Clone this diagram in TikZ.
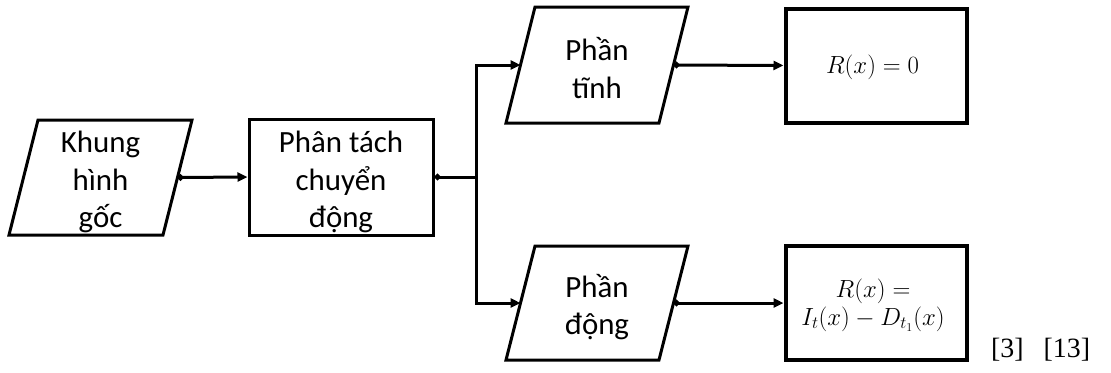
\documentclass[tikz,border=0pt]{standalone}
\usepackage{fontspec}
\setmainfont{Carlito}
\newfontfamily\citefont{Liberation Serif}
\usetikzlibrary{arrows.meta}

\tikzset{
  outline/.style={line width=3bp, line join=miter},
  procbox/.style={draw, rectangle, line width=3bp, minimum width=184bp, minimum height=116bp, inner sep=0pt},
  resbox/.style={draw, rectangle, line width=4bp, minimum width=181bp, minimum height=114bp, inner sep=0pt},
  label text/.style={font=\fontsize{31}{37.5}\selectfont, align=center, inner sep=0pt},
  formula/.style={font=\fontsize{23}{28}\selectfont, align=center, inner sep=0pt},
  wire/.style={line width=3bp},
  conn/.style={line width=3bp, -{Triangle[length=10bp,width=9bp]}},
  dotconn/.style={line width=3bp, {Circle[length=6bp]}-{Triangle[length=10bp,width=9bp]}},
}

\begin{document}
\begin{tikzpicture}[x=1bp, y=-1bp]
\useasboundingbox (0,0) rectangle (1111,372);

% input frame (parallelogram)
\draw[outline] (38,120) -- (192,120) -- (163,235) -- (9,235) -- cycle;
\coordinate (khung-r) at (177.5,177.5);
\node[label text] (khung) at (100.5,182) {Khung\\hình\\gốc};

% motion separation
\node[procbox] (sep) at (341,177) {};
\node[label text] (septxt) at (341,182) {Phân tách\\chuyển\\động};

% static part
\draw[outline] (535,7) -- (688,7) -- (659,123) -- (506,123) -- cycle;
\coordinate (tinh-l) at (520.5,65);
\coordinate (tinh-r) at (673.5,65);
\node[label text] (tinh) at (597,68) {Phần\\tĩnh};

% moving part
\draw[outline] (535,246) -- (688,246) -- (659,360) -- (506,360) -- cycle;
\coordinate (dong-l) at (520.5,303);
\coordinate (dong-r) at (673.5,303);
\node[label text] (dong) at (597,307) {Phần\\động};

% results
\node[resbox] (r0) at (876,65.5) {};
\node[formula] (r0txt) at (872.5,67) {$R(x)=0$};
\node[resbox] (r1) at (876,303) {};
\node[formula, font=\fontsize{24}{28}\selectfont] (r1txt) at (873,305) {$R(x)=$\\$I_t(x)-D_{t_1}(x)$};

% references
\node[font=\citefont\fontsize{28}{32}\selectfont, inner sep=0pt, anchor=base west] (cite) at (991,357) {[3]\hspace{20bp}[13]};

% connectors
\coordinate (split) at (476,177);
\draw[dotconn] (khung-r) -- (sep.west);
\draw[wire, {Circle[length=6bp]}-] (sep.east) -- (split);
\draw[conn] (split) |- (tinh-l);
\draw[conn] (split) |- (dong-l);
\draw[dotconn] (tinh-r) -- (r0.west);
\draw[dotconn] (dong-r) -- (r1.west);
\end{tikzpicture}
\end{document}
